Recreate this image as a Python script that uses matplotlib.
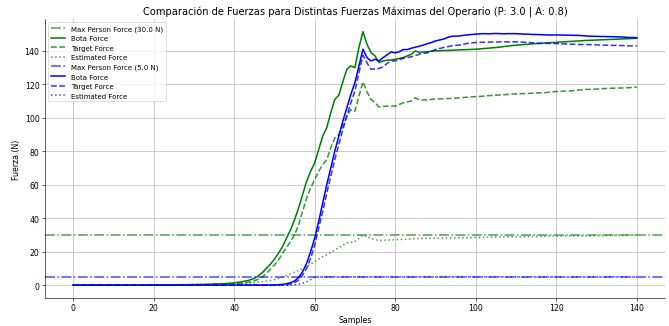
import matplotlib
matplotlib.use('Agg')
import matplotlib.pyplot as plt
import numpy as np

# muestras 0..140
samples = list(range(141))

max_forces = [30.0, 5.0]
colors = ['green', 'blue']

# P: 3.0 | A: 0.8, fuerza maxima 30 N
bota_30 = ([0.0, 0.0] + [0.1]*18 + [0.2]*6 + [0.3]*4 +
           [0.4, 0.4, 0.5, 0.5, 0.6, 0.7, 0.8, 0.9, 1.0, 1.2,
            1.4, 1.7, 2.1, 2.6, 3.2, 4.0, 5.5, 7.5, 10.0, 12.5,
            15.5, 19.0, 23.0, 28.0, 33.0, 39.0, 46.0, 54.0, 62.0, 68.0,
            73.0, 81.0, 89.0, 94.0, 103.0, 111.0, 113.5, 121.5, 129.0, 131.0,
            130.0, 142.0, 151.5, 144.0, 139.0, 137.0, 133.0, 134.0, 134.5, 134.5,
            135.0, 135.5, 136.0, 137.0, 138.0, 140.0, 139.0, 139.3, 139.5, 139.8,
            140.0, 140.1, 140.2, 140.3, 140.4, 140.5, 140.6, 140.7, 140.8, 140.9,
            141.0, 141.2, 141.4, 141.6, 141.8, 142.0, 142.3, 142.6, 142.9, 143.2,
            143.4, 143.6, 143.8, 144.0, 144.2, 144.4, 144.5, 144.7, 144.8, 145.0,
            145.1, 145.3, 145.4, 145.6, 145.7, 145.9, 146.0, 146.2, 146.3, 146.4,
            146.5, 146.6, 146.7, 146.8, 146.9, 147.0, 147.1, 147.2, 147.3, 147.4,
            147.5])
target_30 = ([0.0]*4 + [0.1]*18 + [0.2]*7 +
             [0.3, 0.3, 0.3, 0.3, 0.4, 0.4, 0.5, 0.5, 0.6, 0.7, 0.8,
              0.9, 1.1, 1.3, 1.6, 2.0, 2.6, 3.6, 5.0, 7.0, 9.5,
              12.0, 15.0, 19.0, 22.5, 26.0, 30.0, 36.0, 44.0, 52.0, 58.0,
              63.0, 68.0, 72.0, 75.0, 82.0, 88.0, 90.0, 95.0, 101.0, 105.0,
              104.0, 113.0, 121.5, 115.5, 111.0, 109.0, 106.5, 106.8, 107.0, 107.0,
              107.0, 108.0, 109.0, 109.5, 110.0, 112.0, 110.7, 110.7, 110.7, 111.0,
              111.2, 111.3, 111.4, 111.5, 111.6, 111.8, 112.0, 112.2, 112.4, 112.5,
              112.7, 112.8, 113.0, 113.2, 113.4, 113.5, 113.7, 113.8, 114.0, 114.2,
              114.3, 114.4, 114.5, 114.6, 114.7, 114.8, 115.0, 115.0, 115.2, 115.5,
              115.7, 115.8, 116.0, 116.0, 116.2, 116.5, 116.7, 117.0, 117.0, 117.0,
              117.2, 117.3, 117.5, 117.6, 117.7, 117.8, 117.8, 117.9, 118.0, 118.2,
              118.4])
estimated_30 = ([0.0]*20 + [0.1]*12 +
                [0.2, 0.2, 0.2, 0.3, 0.3, 0.4, 0.5, 0.6,
                 0.7, 0.8, 1.0, 1.1, 1.3, 1.5, 1.8, 2.1, 2.4, 2.8,
                 3.3, 4.0, 4.8, 5.8, 6.8, 7.8, 8.8, 10.0, 11.2, 12.5,
                 14.0, 15.5, 17.0, 18.2, 19.5, 21.0, 22.5, 24.0, 25.3, 25.5,
                 26.0, 28.0, 30.0, 29.0, 28.0, 27.2, 26.7, 26.8, 27.0, 27.0,
                 27.2, 27.3, 27.4, 27.5, 27.6, 28.0, 27.8, 27.9, 28.0, 28.0,
                 28.1, 28.1, 28.2, 28.2, 28.3, 28.3, 28.3, 28.4, 28.4, 28.5,
                 28.5, 28.6, 28.6, 28.7, 28.7, 28.8, 28.8, 28.9, 28.9, 29.0,
                 29.0, 29.0, 29.1, 29.1, 29.1, 29.2, 29.2, 29.2, 29.3, 29.3,
                 29.3, 29.3, 29.4, 29.4, 29.4, 29.5, 29.5, 29.5, 29.5, 29.6,
                 29.6, 29.6, 29.6, 29.7, 29.7, 29.7, 29.7, 29.8, 29.8, 29.8,
                 29.8])

# fuerza maxima 5 N
bota_5 = ([0.0]*30 + [0.1]*20 +
          [0.2, 0.3, 0.5, 0.8, 1.5, 2.5, 4.5, 8.0, 13.0, 20.0,
           28.0, 38.0, 49.0, 60.0, 70.0, 80.0, 89.0, 98.0, 106.0, 114.0,
           121.0, 131.0, 141.0, 136.0, 134.0, 135.0, 134.0, 136.0, 137.6, 139.4,
           138.8, 139.5, 140.8, 140.8, 141.6, 142.2, 142.8, 143.5, 144.3, 145.0,
           145.9, 146.5, 147.0, 148.0, 148.7, 148.8, 148.9, 149.3, 149.6, 149.8,
           150.0, 150.2, 150.3, 150.2, 150.3, 150.4, 150.3, 150.2, 150.3, 150.3,
           150.3, 150.2, 150.0, 150.0, 149.8, 149.8, 149.7, 149.6, 149.5, 149.5,
           149.5, 149.5, 149.4, 149.4, 149.3, 149.3, 149.2, 149.0, 148.8, 148.7,
           148.7, 148.6, 148.6, 148.5, 148.5, 148.4, 148.3, 148.2, 148.0, 148.0,
           147.9])
target_5 = ([0.0]*40 + [0.1]*14 +
            [0.8, 1.5, 3.0, 6.0, 10.0, 16.0,
             24.0, 34.0, 44.0, 55.0, 65.0, 75.0, 84.0, 93.0, 101.0, 109.0,
             116.0, 127.0, 137.4, 132.9, 129.0, 129.3, 129.5, 130.5, 132.5, 134.0,
             134.0, 134.8, 135.5, 136.0, 136.5, 137.2, 138.0, 138.5, 138.9, 139.8,
             140.8, 141.4, 142.0, 142.5, 143.0, 143.3, 143.5, 144.0, 144.5, 144.8,
             145.0, 145.1, 145.2, 145.2, 145.3, 145.3, 145.4, 145.4, 145.4, 145.4,
             145.4, 145.3, 145.2, 145.0, 144.8, 144.6, 144.5, 144.5, 144.5, 144.5,
             144.4, 144.3, 144.2, 144.0, 144.0, 143.9, 143.8, 143.8, 143.8, 143.7,
             143.6, 143.5, 143.4, 143.4, 143.3, 143.3, 143.2, 143.1, 143.0, 143.0,
             143.0])
estimated_5 = [0.0]*55 + [0.2, 0.5, 1.2, 2.0, 3.3, 4.8] + [5.0]*80

results = [(bota_30, target_30, estimated_30), (bota_5, target_5, estimated_5)]

fig = plt.figure(figsize=(12, 5.865), dpi=55.75)
ax = fig.add_subplot(111)

for fmax, c, (bota, target, est) in zip(max_forces, colors, results):
    ax.axhline(fmax, color=c, linestyle='-.', lw=2, alpha=0.7, label='Max Person Force (%.1f N)' % fmax)
    ax.plot(samples, bota, color=c, linestyle='-', lw=2, label='Bota Force')
    ax.plot(samples, target, color=c, linestyle='--', lw=2, alpha=0.8, label='Target Force')
    ax.plot(samples, est, color=c, linestyle=':', lw=2, alpha=0.7, label='Estimated Force')

ax.set_title('Comparación de Fuerzas para Distintas Fuerzas Máximas del Operario (P: 3.0 | A: 0.8)', fontsize=12.8)
ax.set_xlabel('Samples', fontsize=10)
ax.set_ylabel('Fuerza (N)', fontsize=10)
ax.tick_params(labelsize=10)
ax.grid(True, color='#bbbbbb', lw=1)
ax.spines['top'].set_visible(False)
ax.spines['right'].set_visible(False)
ax.legend(loc='upper left', fontsize=9)

plt.subplots_adjust(left=0.067, right=0.994, top=0.939, bottom=0.086)
plt.savefig('out.png')
